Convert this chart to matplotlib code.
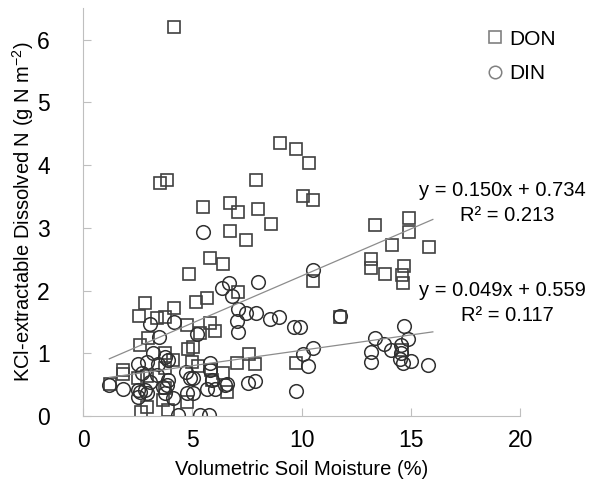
#!/usr/bin/python3
# DON / DIN vs soil moisture scatter with linear trendlines

import numpy as np
import matplotlib
matplotlib.use('Agg')
import matplotlib.pyplot as plt

plt.rcParams['font.family'] = ['Liberation Sans', 'DejaVu Sans']
plt.rcParams['mathtext.fontset'] = 'custom'
plt.rcParams['mathtext.rm'] = 'Liberation Sans'
plt.rcParams['mathtext.it'] = 'Liberation Sans:italic'

# DON (squares)
don_x = [4.16, 3.52, 3.84, 9.0, 9.74, 10.33, 7.9, 6.7, 7.1, 8.0, 8.6, 5.5, 6.72, 7.45,
         5.8, 6.4, 4.85, 10.06, 10.52, 13.35, 14.9, 14.9, 14.13, 15.82, 13.17, 13.17,
         13.8, 14.68, 14.6, 14.63, 10.52, 11.75, 14.6, 7.09, 5.67, 5.17, 2.83, 4.16,
         2.56, 3.38, 3.75, 4.76, 5.8, 6.04, 5.35, 2.97, 2.6, 5.03, 4.8, 3.75, 4.12,
         7.6, 7.04, 7.86, 9.74, 4.98, 5.26, 1.83, 1.83, 1.23, 2.5, 2.9, 5.85, 5.9,
         6.4, 6.6, 3.75, 3.66, 4.76, 2.65, 2.9, 3.9, 3.75]
don_y = [6.20, 3.72, 3.77, 4.35, 4.26, 4.03, 3.76, 3.40, 3.25, 3.30, 3.06, 3.33, 2.95, 2.81,
         2.52, 2.42, 2.26, 3.51, 3.44, 3.05, 3.16, 2.93, 2.73, 2.70, 2.50, 2.36,
         2.26, 2.39, 2.25, 2.12, 2.15, 1.58, 1.05, 1.98, 1.88, 1.82, 1.80, 1.72,
         1.59, 1.56, 1.58, 1.45, 1.48, 1.36, 1.32, 1.24, 1.13, 1.10, 1.07, 1.00, 0.89,
         0.99, 0.85, 0.83, 0.85, 0.86, 0.80, 0.73, 0.67, 0.51, 0.60, 0.64, 0.73, 0.57,
         0.69, 0.38, 0.45, 0.26, 0.22, 0.06, 0.15, 0.10, 0.77]

# DIN (circles)
din_x = [5.5, 10.52, 6.36, 6.68, 6.8, 8.0, 7.09, 7.45, 7.9, 7.04, 7.09, 8.55, 8.96, 9.65,
         5.2, 3.06, 3.48, 4.16, 10.52, 10.06, 10.29, 9.74, 7.54, 7.86, 3.2, 2.93, 2.51,
         2.7, 3.43, 3.75, 3.9, 4.71, 5.03, 5.8, 5.8, 1.19, 1.83, 2.51, 2.51, 2.93, 3.9,
         3.66, 3.75, 4.12, 4.34, 5.35, 5.76, 4.76, 5.03, 5.67, 6.04, 6.5, 2.83, 3.06,
         3.38, 3.84, 4.9, 5.9, 6.6, 2.6, 14.68, 13.35, 14.86, 13.76, 14.08, 14.54,
         13.17, 14.54, 13.17, 14.5, 15.0, 14.63, 15.77, 11.75, 9.9]
din_y = [2.94, 2.33, 2.04, 2.12, 1.91, 2.14, 1.71, 1.64, 1.64, 1.52, 1.34, 1.55, 1.58, 1.42,
         1.31, 1.47, 1.26, 1.50, 1.08, 0.99, 0.80, 0.40, 0.53, 0.56, 1.00, 0.86, 0.83,
         0.69, 0.83, 0.94, 0.89, 0.70, 0.61, 0.84, 0.73, 0.49, 0.44, 0.41, 0.30, 0.37, 0.57,
         0.47, 0.37, 0.29, 0.02, 0.02, 0.02, 0.37, 0.37, 0.44, 0.44, 0.50, 0.41, 0.54,
         0.65, 0.49, 0.61, 0.57, 0.52, 0.38, 1.43, 1.25, 1.23, 1.15, 1.05, 1.13,
         1.02, 1.00, 0.86, 0.91, 0.88, 0.84, 0.81, 1.60, 1.42]

# trendline coefficients as printed on the chart
don_fit = (0.150, 0.734, 0.213)
din_fit = (0.049, 0.559, 0.117)
fit_x = [1.2, 16.0]

fig = plt.figure(figsize=(5.98, 4.8), dpi=100)
ax = fig.add_axes([0.139, 0.133, 0.731, 0.85])

ax.plot(don_x, don_y, 's', ms=8.3, mfc='none', mec='#404040', mew=1.2, label='DON')
ax.plot(din_x, din_y, 'o', ms=9.8, mfc='none', mec='#303030', mew=1.1, label='DIN')

for m, b, r2 in (don_fit, din_fit):
    xx = np.array(fit_x)
    ax.plot(xx, m * xx + b, '-', color='#8c8c8c', lw=0.9)

# equation labels (Excel style, two lines each)
ax.text(19.2, 3.6, 'y = %.3fx + %.3f' % don_fit[:2], ha='center', va='center', fontsize=14.5)
ax.text(19.4, 3.2, 'R² = %.3f' % don_fit[2], ha='center', va='center', fontsize=14.5)
ax.text(19.2, 2.0, 'y = %.3fx + %.3f' % din_fit[:2], ha='center', va='center', fontsize=14.5)
ax.text(19.4, 1.6, 'R² = %.3f' % din_fit[2], ha='center', va='center', fontsize=14.5)

ax.set_xlim(0, 20)
ax.set_ylim(0, 6.5)
ax.set_xticks([0, 5, 10, 15, 20])
ax.set_yticks([0, 1, 2, 3, 4, 5, 6])
for s in ('top', 'right'):
    ax.spines[s].set_visible(False)
for s in ('left', 'bottom'):
    ax.spines[s].set_color('#bfbfbf')
ax.tick_params(colors='#bfbfbf', labelcolor='black', labelsize=16.5, length=6, direction='in')
ax.tick_params(axis='y', pad=24)
ax.tick_params(axis='x', pad=9)
ax.set_xlabel('Volumetric Soil Moisture (%)', fontsize=14.5, labelpad=6)
ax.set_ylabel(r'KCl-extractable Dissolved N (g N m$^{-2}$)', fontsize=14.5, labelpad=1)

leg = ax.legend(loc='upper right', frameon=False, fontsize=15, handletextpad=0.15,
                handlelength=1.0, borderaxespad=0.0, labelspacing=0.75,
                bbox_to_anchor=(1.1, 0.968))
for h in leg.legend_handles:
    h.set_markeredgecolor('#808080')
    h.set_markersize(9)

fig.savefig('out.png', dpi=100)
